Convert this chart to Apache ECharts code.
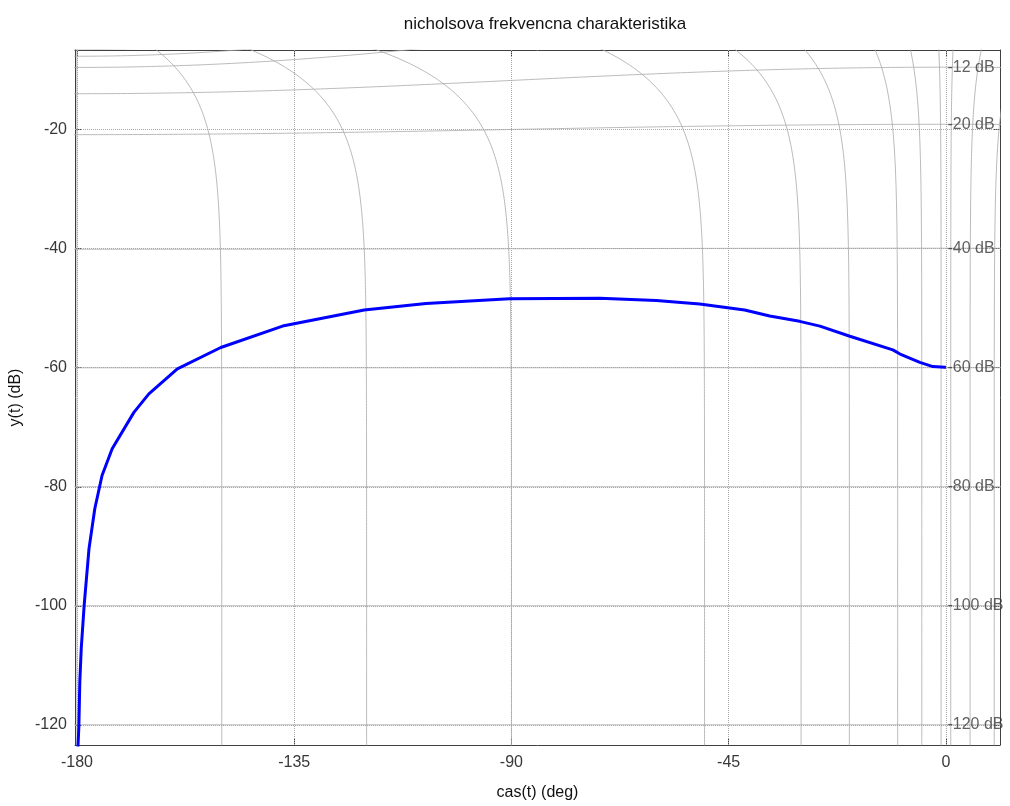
<!DOCTYPE html>
<html>
<head>
<meta charset="utf-8">
<script src="https://cdn.jsdelivr.net/npm/echarts@6/dist/echarts.min.js"></script>
<style>
  html, body { margin: 0; padding: 0; background: #fff; }
  #chart { width: 1010px; height: 806px; }
</style>
</head>
<body>
<div id="chart"></div>
<script>
// odozva sustavy: faza (deg) a zosilnenie (dB), odcitane z grafu
const phaseDeg = [-179.8, -179.6, -179.4, -179.1, -178.5, -177.5, -176.3, -174.8, -172.7, -168.2, -165.1,
  -159.2, -150.2, -137.4, -120.5, -107.7, -90.4, -71.7, -60, -51.0, -41.7, -36.5, -30.3, -26.1, -19.9,
  -11.0, -9.5, -5.4, -2.7, -0.2, 0];
const gainDb = [-124, -120.3, -112.7, -107.1, -99.9, -90.4, -83.7, -78.1, -73.6, -67.5, -64.4,
  -60.2, -56.6, -53.0, -50.3, -49.2, -48.4, -48.3, -48.7, -49.3, -50.3, -51.3, -52.2, -53.0, -54.7,
  -57.0, -57.7, -59.1, -59.8, -59.9, -59.9];

// osi
const xTicks = [-180, -135, -90, -45, 0];
const yTicks = [-120, -100, -80, -60, -40, -20];
const xMin = -180.4, xMax = 11.2;
const yMin = -123.4, yMax = -6.6;

// nicholsova siet: hladiny uzavretej slucky
const mLevelsDb = [-1, -3, -6, -12, -20, -40, -60, -80, -100, -120];
const nLevelsDeg = [-180, -150, -120, -90, -50, -30, -20, -10, -5, -1, 1, 5, 10];

const font = 'Liberation Sans, Arial, sans-serif';
const rad = Math.PI / 180;

// kontura konstantnej amplitudy uzavretej slucky
const mContour = function (lvl) {
  const m = Math.pow(10, lvl / 20);
  const pts = [];
  for (let ph = -182; ph <= 13; ph += 0.25) {
    const c = Math.cos(ph * rad);
    const r = (m * m * c + Math.sqrt(m * m * m * m * c * c + m * m * (1 - m * m))) / (1 - m * m);
    pts.push([ph, 20 * Math.log10(r)]);
  }
  return pts;
};
// kontura konstantnej fazy uzavretej slucky
const nContour = function (psi) {
  const pts = [];
  for (let md = -150; md <= 30; md += 0.25) {
    const m = Math.pow(10, md / 20);
    const re = 1 - m * Math.cos(psi * rad);
    const im = -m * Math.sin(psi * rad);
    const ph = psi - Math.atan2(im, re) / rad;
    pts.push([ph, md - 10 * Math.log10(re * re + im * im)]);
  }
  return pts;
};

const gridLine = { color: '#a8a8a8', width: 1, type: [1, 1] };
const contourLine = { color: '#a8a8a8', width: 0.8 };

const series = [];
series.push({
  type: 'line', data: [], silent: true, symbol: 'none',
  markLine: {
    silent: true, symbol: 'none', label: { show: false }, lineStyle: gridLine, animation: false,
    data: xTicks.map(v => ({ xAxis: v })).concat(yTicks.map(v => ({ yAxis: v })))
  }
});
mLevelsDb.forEach(lvl => {
  series.push({ type: 'line', data: mContour(lvl), symbol: 'none', silent: true, lineStyle: contourLine, z: 3 });
});
nLevelsDeg.forEach(psi => {
  series.push({ type: 'line', data: nContour(psi), symbol: 'none', silent: true, lineStyle: contourLine, z: 3 });
});
series.push({
  type: 'line', data: phaseDeg.map((p, i) => [p, gainDb[i]]), symbol: 'none',
  lineStyle: { color: '#0000ff', width: 3 }, z: 5
});
// popisy dB pri faze 0
const labelData = mLevelsDb.map(lvl => {
  const m = Math.pow(10, lvl / 20);
  return [0, 20 * Math.log10(m / (1 - m)), lvl];
}).filter(d => d[1] < yMax && d[1] > yMin);
series.push({
  type: 'scatter', data: labelData, symbolSize: 1, itemStyle: { color: 'transparent' }, z: 6,
  label: {
    show: true, position: 'right', distance: 1, color: '#383838', fontSize: 16, fontFamily: font,
    formatter: p => p.value[2] + ' dB'
  }
});

const axisCommon = {
  type: 'value', min: xMin, max: xMax,
  axisLine: { show: true, onZero: false, lineStyle: { color: '#404040', width: 1 } },
  splitLine: { show: false }
};

const option = {
  animation: false,
  textStyle: { fontFamily: font },
  title: {
    text: 'nicholsova frekvencna charakteristika',
    left: 540, top: 11, textAlign: 'center',
    textStyle: { fontSize: 17, fontWeight: 'normal', color: '#111', fontFamily: font }
  },
  grid: { left: 75, top: 50, right: 10, bottom: 59 },
  xAxis: [
    Object.assign({}, axisCommon, {
      position: 'bottom',
      axisTick: { inside: true, length: 6, customValues: xTicks, lineStyle: { color: '#404040' } },
      axisLabel: { customValues: xTicks, fontSize: 16, color: '#383838', margin: 10, fontFamily: font },
      name: 'cas(t) (deg)', nameLocation: 'middle', nameGap: 40,
      nameTextStyle: { fontSize: 16, color: '#111', fontFamily: font }
    }),
    Object.assign({}, axisCommon, {
      position: 'top',
      axisTick: { inside: true, length: 6, customValues: xTicks, lineStyle: { color: '#404040' } },
      axisLabel: { show: false }
    })
  ],
  yAxis: [
    Object.assign({}, axisCommon, {
      min: yMin, max: yMax, position: 'left',
      axisTick: { inside: true, length: 6, customValues: yTicks, lineStyle: { color: '#404040' } },
      axisLabel: { customValues: yTicks, fontSize: 16, color: '#383838', margin: 8, fontFamily: font },
      name: 'y(t) (dB)', nameLocation: 'middle', nameGap: 50,
      nameTextStyle: { fontSize: 16, color: '#111', fontFamily: font }
    }),
    Object.assign({}, axisCommon, {
      min: yMin, max: yMax, position: 'right',
      axisTick: { inside: true, length: 6, customValues: yTicks, lineStyle: { color: '#404040' } },
      axisLabel: { show: false }
    })
  ],
  series: series
};

const chart = echarts.init(document.getElementById('chart'));
chart.setOption(option);
</script>
</body>
</html>
